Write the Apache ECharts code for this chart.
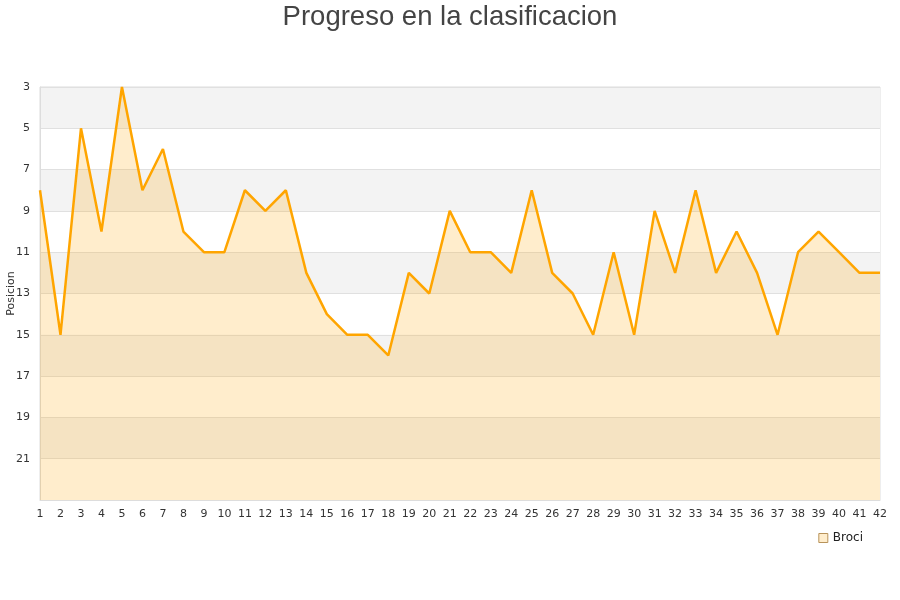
<!DOCTYPE html>
<html><head><meta charset="utf-8">
<script src="https://cdn.jsdelivr.net/npm/echarts@6/dist/echarts.min.js"></script>
<style>html,body{margin:0;padding:0;background:#fff}#c{width:900px;height:600px}</style>
</head><body><div id="c"></div>
<script>
const rounds = ['1','2','3','4','5','6','7','8','9','10','11','12','13','14','15','16','17','18','19','20','21','22','23','24','25','26','27','28','29','30','31','32','33','34','35','36','37','38','39','40','41','42'];
const positions = [8,15,5,10,3,8,6,10,11,11,8,9,8,12,14,15,15,16,12,13,9,11,11,12,8,12,13,15,11,15,9,12,8,12,10,12,15,11,10,11,12,12];
const seriesName = 'Broci';
const chart = echarts.init(document.getElementById('c'));
chart.setOption({
  animation: false,
  backgroundColor: '#fff',
  title: {text: 'Progreso en la clasificacion', left: 'center', top: -2,
    textStyle: {fontFamily: 'Liberation Sans, Arial, sans-serif', fontSize: 27.5, fontWeight: 'normal', color: '#444'}},
  legend: {data: [{name: seriesName, icon: 'rect', itemStyle: {color: '#FFEDCC', borderColor: '#B8935A', borderWidth: 1}}],
    right: 32, top: 527, itemWidth: 9, itemHeight: 9, itemGap: 6,
    textStyle: {fontFamily: 'DejaVu Sans', fontSize: 12, color: '#222'}},
  grid: {left: 40, right: 20, top: 87, bottom: 100, containLabel: false, outerBoundsMode: 'none',
    show: true, borderColor: '#ddd', borderWidth: 1, backgroundColor: 'transparent'},
  xAxis: {type: 'category', data: rounds, boundaryGap: false,
    axisLine: {show: true, lineStyle: {color: '#ddd'}}, axisTick: {show: false},
    axisLabel: {interval: 0, color: '#333', fontFamily: 'DejaVu Sans', fontSize: 11, margin: 9},
    splitLine: {show: false}},
  yAxis: {type: 'value', inverse: true, min: 3, max: 23, interval: 2,
    name: 'Posicion', nameLocation: 'middle', nameGap: 23, nameRotate: 90, nameMoveOverlap: false,
    nameTextStyle: {fontFamily: 'DejaVu Sans', fontSize: 11, color: '#333'},
    axisLine: {show: true, lineStyle: {color: '#ddd'}}, axisTick: {show: false},
    axisLabel: {color: '#333', fontFamily: 'DejaVu Sans', fontSize: 11, margin: 10,
      formatter: v => v === 23 ? '' : String(v)},
    splitLine: {show: true, lineStyle: {color: '#e0e0e0', width: 1}},
    splitArea: {show: true, areaStyle: {color: ['#f3f3f3', '#ffffff']}}},
  series: [{name: seriesName, type: 'line', data: positions, showSymbol: false, symbol: 'none',
    lineStyle: {color: '#FFA500', width: 2.5}, itemStyle: {color: '#FFA500'},
    areaStyle: {color: 'rgba(255,165,0,0.2)', opacity: 1, origin: 'end'}}]
});
</script></body></html>
